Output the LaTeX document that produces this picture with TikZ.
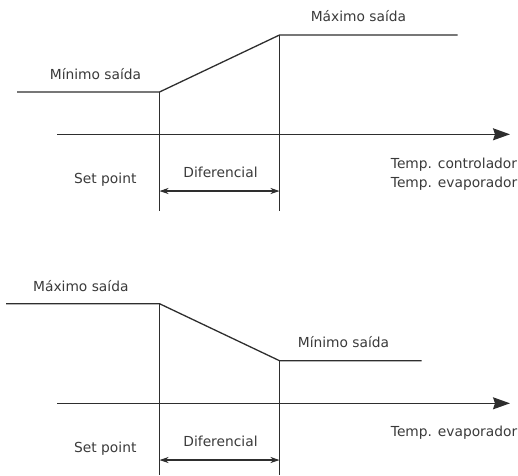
\documentclass[tikz,border=0pt]{standalone}
\usepackage{fontspec}
\setmainfont{DejaVu Sans}
\usetikzlibrary{arrows.meta}
\definecolor{ink}{HTML}{2E2E2E}
\definecolor{txt}{HTML}{3A3A3A}
\begin{document}
\begin{tikzpicture}[x=1pt,y=-1pt,
  ln/.style={draw=ink,line width=1.3pt},
  axis/.style={ln,-{Stealth[length=17pt,width=12pt,inset=2pt]}},
  dim/.style={draw=ink,line width=1.1pt,{Stealth[length=9pt,width=6pt]}-{Stealth[length=9pt,width=6pt]}},
  lbl/.style={text=txt,font=\fontsize{13.8}{16}\selectfont,inner sep=0pt,anchor=base}]
\useasboundingbox (0,0) rectangle (518,475);
% ---- top diagram ----
\coordinate (a1) at (17,92);
\coordinate (a2) at (159.5,92);
\coordinate (a3) at (279.5,35);
\coordinate (a4) at (457.5,35);
\coordinate (ax1) at (57,134.3);
\coordinate (ax2) at (510,134.3);
\coordinate (v1) at (159.5,210.7);
\coordinate (v2) at (279.5,210.7);
\coordinate (d1) at (159.5,191);
\coordinate (d2) at (279.5,191);
\draw[ln] (a1) -- (a2) -- (a3) -- (a4);
\draw[ln] (a2) -- (v1);
\draw[ln] (a3) -- (v2);
\draw[axis] (ax1) -- (ax2);
\draw[dim] (d1) -- (d2);
\node[lbl] (tmax) at (358.5,21.7) {Máximo saída};
\node[lbl] (tmin) at (95.5,79.3) {Mínimo saída};
\node[lbl] (tsp) at (105.3,183.3) {Set point};
\node[lbl] (tdif) at (220.5,177.3) {Diferencial};
\node[lbl,anchor=base west] (tc) at (390.7,168.3) {Temp. controlador};
\node[lbl,anchor=base west] (te) at (390.7,187.7) {Temp. evaporador};
% ---- bottom diagram ----
\coordinate (b1) at (6,303.7);
\coordinate (b2) at (159.5,303.7);
\coordinate (b3) at (279.5,360.7);
\coordinate (b4) at (421.7,360.7);
\coordinate (bx1) at (57,403.3);
\coordinate (bx2) at (510,403.3);
\coordinate (w1) at (159.5,475);
\coordinate (w2) at (279.5,475);
\coordinate (e1) at (159.5,460);
\coordinate (e2) at (279.5,460);
\draw[ln] (b1) -- (b2) -- (b3) -- (b4);
\draw[ln] (b2) -- (w1);
\draw[ln] (b3) -- (w2);
\draw[axis] (bx1) -- (bx2);
\draw[dim] (e1) -- (e2);
\node[lbl] (bmax) at (80.8,291) {Máximo saída};
\node[lbl] (bmin) at (343.5,347.7) {Mínimo saída};
\node[lbl] (bsp) at (105.3,452.3) {Set point};
\node[lbl] (bdif) at (220.5,446.7) {Diferencial};
\node[lbl,anchor=base west] (be) at (390.7,436.7) {Temp. evaporador};
\end{tikzpicture}
\end{document}
